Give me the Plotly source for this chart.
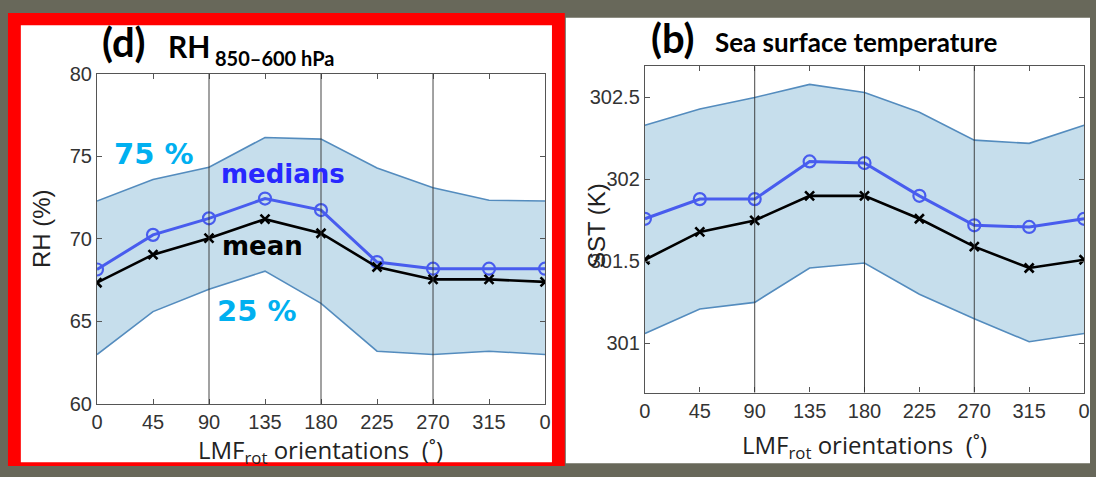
import plotly.graph_objects as go

# ---------------- data ----------------
orient = [0, 45, 90, 135, 180, 225, 270, 315, 360]
orient_labels = ["0", "45", "90", "135", "180", "225", "270", "315", "0"]

rh_p75 = [72.3, 73.6, 74.35, 76.15, 76.05, 74.3, 73.1, 72.35, 72.3]
rh_median = [68.15, 70.25, 71.25, 72.45, 71.75, 68.6, 68.2, 68.2, 68.2]
rh_mean = [67.35, 69.05, 70.05, 71.2, 70.35, 68.3, 67.55, 67.55, 67.4]
rh_p25 = [63.0, 65.6, 66.95, 68.05, 66.1, 63.2, 63.0, 63.2, 63.0]

sst_p75 = [302.33, 302.43, 302.5, 302.58, 302.53, 302.41, 302.24, 302.22, 302.33]
sst_median = [301.76, 301.88, 301.88, 302.11, 302.1, 301.9, 301.72, 301.71, 301.76]
sst_mean = [301.51, 301.68, 301.75, 301.9, 301.9, 301.76, 301.59, 301.46, 301.51]
sst_p25 = [301.06, 301.21, 301.25, 301.46, 301.49, 301.3, 301.15, 301.01, 301.06]

rh_ticks = [60, 65, 70, 75, 80]
sst_ticks = [301, 301.5, 302, 302.5]
sst_tick_labels = ["301", "301.5", "302", "302.5"]
grid_orients = [90, 180, 270]

# ---------------- style ----------------
W, H = 1096, 477
BAND_FILL = "rgb(198,222,236)"
BAND_LINE = "rgb(84,140,190)"
MED_COL = "rgb(72,92,238)"
AX_COL = "#555555"
TICK_FONT = dict(family="Liberation Sans, Arial", size=20, color="#333333")


def px(x):
    return x / W


def py(y):
    return 1 - y / H


fig = go.Figure()


def add_panel(xa, ya, p25, p75, med, mean):
    fig.add_trace(go.Scatter(x=orient, y=p25, mode="lines", xaxis=xa, yaxis=ya,
                             line=dict(color=BAND_LINE, width=1.6), showlegend=False))
    fig.add_trace(go.Scatter(x=orient, y=p75, mode="lines", xaxis=xa, yaxis=ya,
                             line=dict(color=BAND_LINE, width=1.6), fill="tonexty",
                             fillcolor=BAND_FILL, showlegend=False))
    fig.add_trace(go.Scatter(x=orient, y=med, mode="lines+markers", xaxis=xa, yaxis=ya,
                             line=dict(color=MED_COL, width=3),
                             marker=dict(symbol="circle-open", size=12, color=MED_COL,
                                         line=dict(width=2.2, color=MED_COL)),
                             showlegend=False))
    fig.add_trace(go.Scatter(x=orient, y=mean, mode="lines+markers", xaxis=xa, yaxis=ya,
                             line=dict(color="black", width=2.6),
                             marker=dict(symbol="x-thin", size=9, color="black",
                                         line=dict(width=2.6, color="black")),
                             showlegend=False))


add_panel("x", "y", rh_p25, rh_p75, rh_median, rh_mean)
add_panel("x2", "y2", sst_p25, sst_p75, sst_median, sst_mean)

xcommon = dict(tickmode="array", tickvals=orient, ticktext=orient_labels,
               range=[0, 360], showgrid=False, zeroline=False, showline=True,
               linecolor=AX_COL, linewidth=1.2, mirror="ticks", ticks="inside",
               ticklen=5, tickcolor=AX_COL, tickfont=TICK_FONT)
ycommon = dict(showgrid=False, zeroline=False, showline=True, linecolor=AX_COL,
               linewidth=1.2, mirror="ticks", ticks="inside", ticklen=5,
               tickcolor=AX_COL, tickfont=TICK_FONT)

fig.update_layout(
    width=W, height=H,
    margin=dict(l=0, r=0, t=0, b=0),
    paper_bgcolor="rgb(104,104,90)",
    plot_bgcolor="white",
    xaxis=dict(domain=[px(92), px(545)], anchor="y", **xcommon),
    yaxis=dict(domain=[py(412), py(66)], anchor="x", range=[60, 80],
               tickmode="array", tickvals=rh_ticks, **ycommon),
    xaxis2=dict(domain=[px(646), px(1090)], anchor="y2", **xcommon),
    yaxis2=dict(domain=[py(400), py(58)], anchor="x2", range=[300.70, 302.69],
                tickmode="array", tickvals=sst_ticks, ticktext=sst_tick_labels,
                **ycommon),
)

shapes = []
# red framed left panel
shapes.append(dict(type="rect", xref="paper", yref="paper", layer="below",
                   x0=px(2), x1=px(565), y0=py(477), y1=py(2),
                   fillcolor="rgb(255,0,0)", line=dict(width=0)))
shapes.append(dict(type="rect", xref="paper", yref="paper", layer="below",
                   x0=px(15), x1=px(552), y0=py(473), y1=py(15),
                   fillcolor="white", line=dict(width=0)))
# right panel white
shapes.append(dict(type="rect", xref="paper", yref="paper", layer="below",
                   x0=px(566), x1=1, y0=py(474), y1=py(7),
                   fillcolor="white", line=dict(width=0)))
# vertical grid lines
for xa, ya in (("x", "y"), ("x2", "y2")):
    for g in grid_orients:
        shapes.append(dict(type="line", xref=xa, yref=f"{ya} domain", x0=g, x1=g,
                           y0=0, y1=1, layer="above",
                           line=dict(color="rgba(50,50,50,0.9)", width=1)))
fig.update_layout(shapes=shapes)

ann = []
TITLE_FONT = "Lato, Open Sans, sans-serif"
# left title
ann.append(dict(text="<b>(d)</b>", x=px(95), y=py(33), xref="paper", yref="paper",
                xanchor="left", yanchor="middle", showarrow=False,
                font=dict(family=TITLE_FONT, size=40, color="black")))
ann.append(dict(text="<b>RH</b>", x=px(162), y=py(37), xref="paper", yref="paper",
                xanchor="left", yanchor="middle", showarrow=False,
                font=dict(family=TITLE_FONT, size=30, color="black")))
ann.append(dict(text="<b>850–600 hPa</b>", x=px(209), y=py(49), xref="paper", yref="paper",
                xanchor="left", yanchor="middle", showarrow=False,
                font=dict(family=TITLE_FONT, size=20, color="black")))
# right title
ann.append(dict(text="<b>(b)</b>", x=px(650), y=py(28), xref="paper", yref="paper",
                xanchor="left", yanchor="middle", showarrow=False,
                font=dict(family=TITLE_FONT, size=40, color="black")))
ann.append(dict(text="<b>Sea surface temperature</b>", x=px(715), y=py(32), xref="paper",
                yref="paper", xanchor="left", yanchor="middle", showarrow=False,
                font=dict(family=TITLE_FONT, size=26, color="black")))
# axis titles
AXT = dict(family="Liberation Sans, Arial", size=24, color="#222222")
ann.append(dict(text="RH (%)", x=px(36), y=py(228), xref="paper", yref="paper",
                textangle=-90, showarrow=False, xanchor="center", yanchor="middle",
                font=AXT))
ann.append(dict(text="SST (K)", x=px(597), y=py(225), xref="paper", yref="paper",
                textangle=-90, showarrow=False, xanchor="center", yanchor="middle",
                font=AXT))
XT = dict(family="Open Sans, Liberation Sans", size=24, color="#222222")
ann.append(dict(text="LMF<sub>rot</sub> orientations  (˚)", x=px(318), y=py(461),
                xref="paper", yref="paper", showarrow=False, xanchor="center",
                yanchor="middle", font=XT))
ann.append(dict(text="LMF<sub>rot</sub> orientations  (˚)", x=px(868), y=py(456),
                xref="paper", yref="paper", showarrow=False, xanchor="center",
                yanchor="middle", font=XT))
# in-plot labels
LBL = "DejaVu Sans, sans-serif"
ann.append(dict(text="<b>75 %</b>", x=px(150), y=py(150), xref="paper", yref="paper",
                showarrow=False, xanchor="center", yanchor="middle",
                font=dict(family=LBL, size=29, color="rgb(0,176,240)")))
ann.append(dict(text="<b>medians</b>", x=px(280), y=py(171), xref="paper", yref="paper",
                showarrow=False, xanchor="center", yanchor="middle",
                font=dict(family=LBL, size=26, color="rgb(40,40,255)")))
ann.append(dict(text="<b>mean</b>", x=px(259), y=py(246), xref="paper", yref="paper",
                showarrow=False, xanchor="center", yanchor="middle",
                font=dict(family=LBL, size=26, color="black")))
ann.append(dict(text="<b>25 %</b>", x=px(254), y=py(315), xref="paper", yref="paper",
                showarrow=False, xanchor="center", yanchor="middle",
                font=dict(family=LBL, size=29, color="rgb(0,176,240)")))
fig.update_layout(annotations=ann)

fig.write_html("out.html")
